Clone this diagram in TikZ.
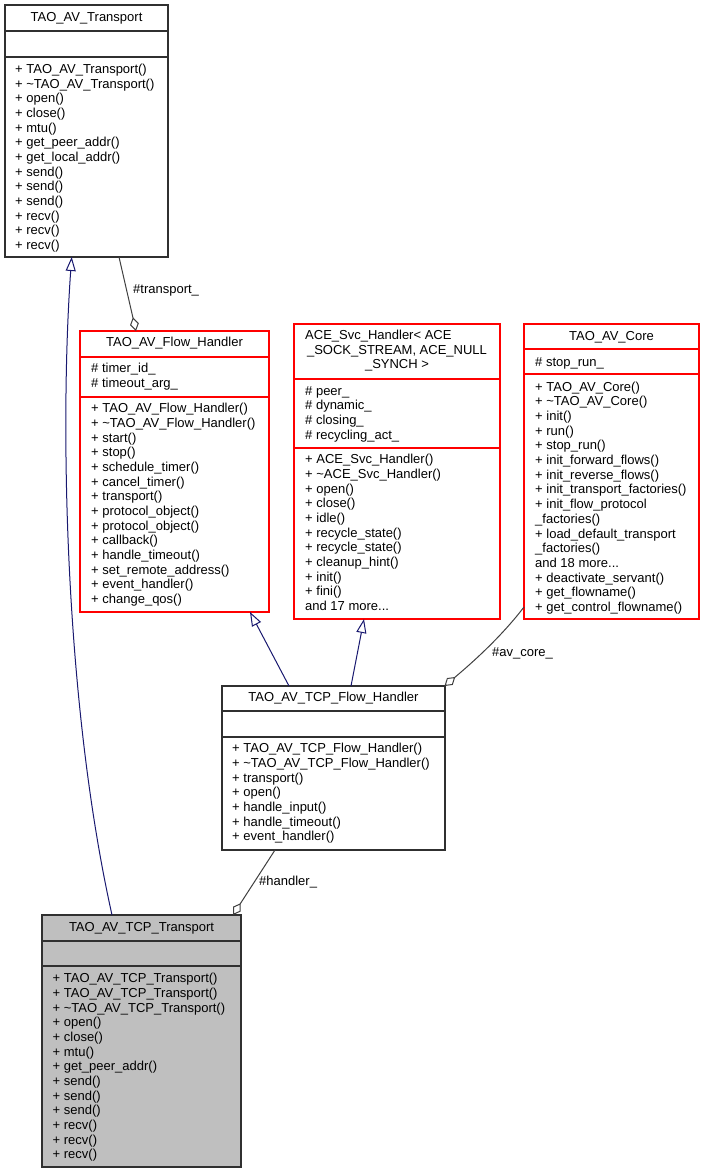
\documentclass[tikz,border=0pt]{standalone}
\usepackage{fontspec}
\setmainfont{Liberation Sans}
\usetikzlibrary{arrows.meta,calc}
\definecolor{edgegray}{HTML}{404040}
\definecolor{boxblack}{HTML}{303030}
\definecolor{navyline}{HTML}{191970}
\definecolor{boxred}{HTML}{FF0000}
\definecolor{boxfill}{HTML}{BFBFBF}
\newcommand{\memberlist}[1]{\begin{tabular}[t]{@{}l@{}}#1\end{tabular}}
\tikzset{
  cls/.style={draw=#1, line width=1.1pt, inner sep=0pt, outer sep=0pt, anchor=north west},
  divline/.style={draw=#1, line width=1.1pt},
  txt/.style={font=\fontsize{13}{14.67}\selectfont, inner sep=0pt, anchor=base west},
  ttl/.style={font=\fontsize{13}{14.67}\selectfont, inner sep=0pt, anchor=base},
  lbl/.style={font=\fontsize{13}{14.67}\selectfont, inner sep=0pt, anchor=west},
  inh/.style={draw=navyline, line width=1pt, -{Triangle[open, length=14pt, width=10pt]}},
  agg/.style={draw=edgegray, line width=1pt, -{Diamond[open, length=14pt, width=9pt]}},
}
\begin{document}
\begin{tikzpicture}[x=1pt,y=-1pt]
\fill[white] (0,0) rectangle (704,1173);
\useasboundingbox (0,0) rectangle (704,1173);

% ---------- TAO_AV_Transport
\node[cls=boxblack, minimum width=163pt, minimum height=252pt] (tr) at (5,5) {};
\draw[divline=boxblack] ($(tr.north west)+(0,26)$) -- ($(tr.north east)+(0,26)$);
\draw[divline=boxblack] ($(tr.north west)+(0,52)$) -- ($(tr.north east)+(0,52)$);
\node[ttl] (trT) at (86.5,21.9) {TAO\_AV\_Transport};
\node[txt] (trM) at (15,73.6) {\memberlist{+ TAO\_AV\_Transport()\\+ \textasciitilde TAO\_AV\_Transport()\\+ open()\\+ close()\\+ mtu()\\+ get\_peer\_addr()\\+ get\_local\_addr()\\+ send()\\+ send()\\+ send()\\+ recv()\\+ recv()\\+ recv()}};

% ---------- TAO_AV_Flow_Handler
\node[cls=boxred, minimum width=189pt, minimum height=281pt] (fh) at (80,331) {};
\draw[divline=boxred] ($(fh.north west)+(0,26)$) -- ($(fh.north east)+(0,26)$);
\draw[divline=boxred] ($(fh.north west)+(0,66)$) -- ($(fh.north east)+(0,66)$);
\node[ttl] (fhT) at (174.5,346.9) {TAO\_AV\_Flow\_Handler};
\node[txt] (fhA) at (91,372.9) {\memberlist{\# timer\_id\_\\\# timeout\_arg\_}};
\node[txt] (fhM) at (91,412.9) {\memberlist{+ TAO\_AV\_Flow\_Handler()\\+ \textasciitilde TAO\_AV\_Flow\_Handler()\\+ start()\\+ stop()\\+ schedule\_timer()\\+ cancel\_timer()\\+ transport()\\+ protocol\_object()\\+ protocol\_object()\\+ callback()\\+ handle\_timeout()\\+ set\_remote\_address()\\+ event\_handler()\\+ change\_qos()}};

% ---------- ACE_Svc_Handler
\node[cls=boxred, minimum width=206pt, minimum height=295pt] (ace) at (294,324) {};
\draw[divline=boxred] ($(ace.north west)+(0,55)$) -- ($(ace.north east)+(0,55)$);
\draw[divline=boxred] ($(ace.north west)+(0,124)$) -- ($(ace.north east)+(0,124)$);
\node[txt] (aceT1) at (305,339.6) {ACE\_Svc\_Handler< ACE};
\node[ttl] (aceT2) at (397,354.3) {\_SOCK\_STREAM, ACE\_NULL};
\node[ttl] (aceT3) at (397,368.9) {\_SYNCH >};
\node[txt] (aceA) at (305,395.3) {\memberlist{\# peer\_\\\# dynamic\_\\\# closing\_\\\# recycling\_act\_}};
\node[txt] (aceM) at (305,463.9) {\memberlist{+ ACE\_Svc\_Handler()\\+ \textasciitilde ACE\_Svc\_Handler()\\+ open()\\+ close()\\+ idle()\\+ recycle\_state()\\+ recycle\_state()\\+ cleanup\_hint()\\+ init()\\+ fini()\\and 17 more...}};

% ---------- TAO_AV_Core
\node[cls=boxred, minimum width=175pt, minimum height=295pt] (core) at (524,324) {};
\draw[divline=boxred] ($(core.north west)+(0,25)$) -- ($(core.north east)+(0,25)$);
\draw[divline=boxred] ($(core.north west)+(0,50)$) -- ($(core.north east)+(0,50)$);
\node[ttl] (coreT) at (611.5,340.3) {TAO\_AV\_Core};
\node[txt] (coreA) at (535,366.3) {\# stop\_run\_};
\node[txt] (coreM) at (535,391.3) {\memberlist{+ TAO\_AV\_Core()\\+ \textasciitilde TAO\_AV\_Core()\\+ init()\\+ run()\\+ stop\_run()\\+ init\_forward\_flows()\\+ init\_reverse\_flows()\\+ init\_transport\_factories()\\+ init\_flow\_protocol\\\_factories()\\+ load\_default\_transport\\\_factories()\\and 18 more...\\+ deactivate\_servant()\\+ get\_flowname()\\+ get\_control\_flowname()}};

% ---------- TAO_AV_TCP_Flow_Handler
\node[cls=boxblack, minimum width=223pt, minimum height=164pt] (tfh) at (222,686) {};
\draw[divline=boxblack] ($(tfh.north west)+(0,25)$) -- ($(tfh.north east)+(0,25)$);
\draw[divline=boxblack] ($(tfh.north west)+(0,51)$) -- ($(tfh.north east)+(0,51)$);
\node[ttl] (tfhT) at (333.5,701.9) {TAO\_AV\_TCP\_Flow\_Handler};
\node[txt] (tfhM) at (232,752.9) {\memberlist{+ TAO\_AV\_TCP\_Flow\_Handler()\\+ \textasciitilde TAO\_AV\_TCP\_Flow\_Handler()\\+ transport()\\+ open()\\+ handle\_input()\\+ handle\_timeout()\\+ event\_handler()}};

% ---------- TAO_AV_TCP_Transport
\node[cls=boxblack, fill=boxfill, minimum width=199pt, minimum height=252pt] (tt) at (42,915) {};
\draw[divline=boxblack] ($(tt.north west)+(0,26)$) -- ($(tt.north east)+(0,26)$);
\draw[divline=boxblack] ($(tt.north west)+(0,51)$) -- ($(tt.north east)+(0,51)$);
\node[ttl] (ttT) at (141.5,931.3) {TAO\_AV\_TCP\_Transport};
\node[txt] (ttM) at (52.5,982.9) {\memberlist{+ TAO\_AV\_TCP\_Transport()\\+ TAO\_AV\_TCP\_Transport()\\+ \textasciitilde TAO\_AV\_TCP\_Transport()\\+ open()\\+ close()\\+ mtu()\\+ get\_peer\_addr()\\+ send()\\+ send()\\+ send()\\+ recv()\\+ recv()\\+ recv()}};

% ---------- connectors
\draw[inh] ($(tt.north west)+(70,0)$) .. controls (64,700) and (60,420) .. ($(tr.south west)+(66.7,0)$);
\draw[inh] ($(tfh.north west)+(67,0)$) -- ($(fh.south west)+(170,0)$);
\draw[inh] ($(tfh.north west)+(129,0)$) -- ($(ace.south west)+(70,0)$);
\draw[agg] ($(tr.south west)+(114,0)$) -- ($(fh.north west)+(56,0)$);
\draw[agg] ($(core.south west)+(0,-12)$) .. controls (508,628) and (485,652) .. ($(tfh.north east)+(-0.5,0)$);
\draw[agg] ($(tfh.south west)+(53,0)$) -- ($(tt.north west)+(191,0)$);

\node[lbl] (lt) at (133,290) {\#transport\_};
\node[lbl] (la) at (492,653) {\#av\_core\_};
\node[lbl] (lh) at (259,882) {\#handler\_};
\end{tikzpicture}
\end{document}
